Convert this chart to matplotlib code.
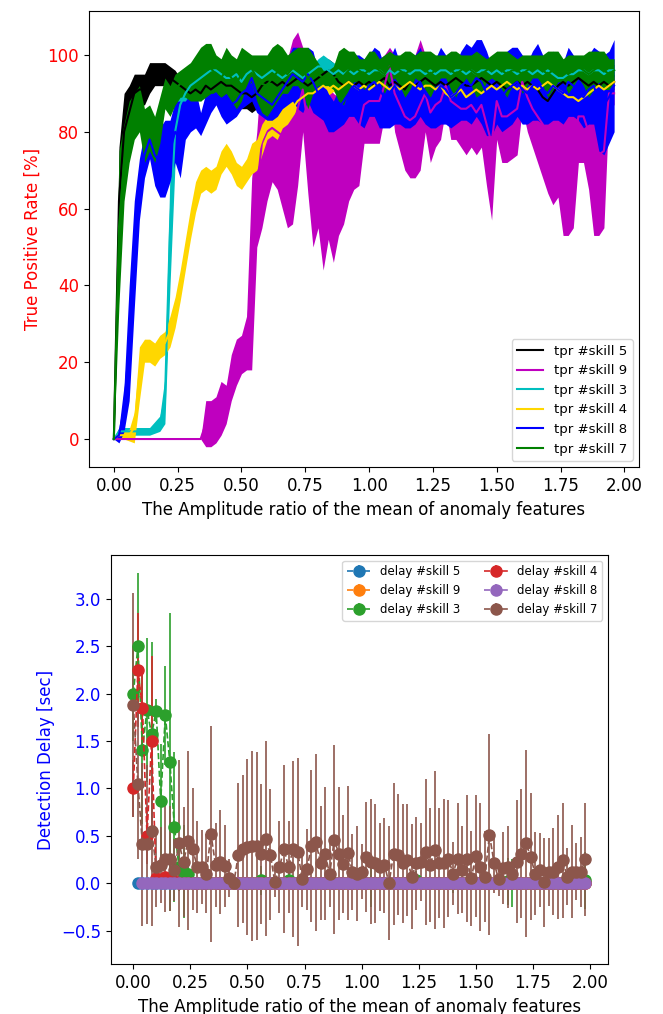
import numpy as np
import matplotlib
matplotlib.use("Agg")
import matplotlib.pyplot as plt

plt.rcParams['font.family'] = ['DejaVu Sans']
plt.rcParams['font.size'] = 12

# ---------------- top chart data (TPR mean / std) ----------------
x_top = np.round(np.arange(99) * 0.02, 2)
skills = ["5", "9", "3", "4", "8", "7"]
tpr_colors = ["k", "m", "c", "gold", "b", "g"]

tpr5_mean = [0, 62, 80, 85, 90, 91, 91, 94, 95, 95,
             95, 94, 93, 92, 91, 90, 91, 90, 92, 91,
             92, 93, 92, 92, 91, 90, 90, 89, 90, 92,
             93, 93, 92, 93, 92, 93, 94, 93, 92, 93,
             94, 95, 96, 95, 93, 92, 93, 92, 93, 92,
             93, 92, 93, 94, 92, 93, 92, 91, 93, 92,
             93, 94, 93, 92, 93, 92, 93, 94, 93, 92,
             92, 93, 94, 93, 92, 93, 92, 91, 92, 93,
             92, 93, 92, 91, 89, 88, 90, 92, 93, 92,
             93, 94, 93, 92, 93, 92, 93, 92, 93]
tpr5_std = [0, 14, 10, 7, 5, 4, 4, 4, 3, 3,
            3, 3, 3, 2, 2, 2, 2, 2, 2, 2,
            2, 2, 2, 2, 3, 4, 4, 4, 4, 3,
            2, 2, 2, 2, 2, 2, 2, 2, 2, 2,
            2, 3, 3, 3, 2, 2, 2, 2, 2, 2,
            2, 2, 2, 2, 2, 2, 2, 2, 2, 2,
            2, 2, 2, 2, 2, 2, 2, 2, 2, 2,
            2, 2, 2, 2, 2, 2, 2, 2, 2, 2,
            2, 2, 2, 3, 4, 4, 4, 3, 2, 2,
            2, 2, 2, 2, 2, 2, 2, 2, 2]

tpr9_mean = [0, 0, 0, 0, 0, 0, 0, 0, 0, 0,
             0, 0, 0, 0, 0, 0, 0, 0,
             4, 4, 5, 8, 9, 16, 20, 22,
             25, 43, 65, 77, 80, 81, 80, 79, 77, 80,
             86, 91, 82, 73, 74, 68, 72, 68, 71, 74,
             78, 80, 81, 87, 88, 88, 88, 92, 97, 90,
             87, 84, 83, 84, 87, 90, 85, 87, 88, 92,
             88, 87, 86, 86, 87, 85, 87, 82, 77, 88,
             84, 84, 85, 86, 93, 89, 86, 84, 82, 79,
             77, 78, 73, 73, 75, 84, 84, 80, 74, 74,
             75, 90, 90]
tpr9_std = [0, 0, 0, 0, 0, 0, 0, 0, 0, 0,
            0, 0, 0, 0, 0, 0, 0, 0,
            6, 6, 6, 7, 5, 6, 6, 5,
            7, 25, 15, 22, 18, 14, 15, 19, 22, 24,
            20, 11, 18, 23, 19, 24, 20, 22, 18, 18,
            16, 15, 15, 10, 11, 11, 11, 8, 5, 10,
            12, 14, 15, 16, 17, 10, 13, 11, 10, 6,
            10, 9, 10, 12, 11, 11, 11, 16, 20, 10,
            12, 12, 12, 12, 7, 9, 10, 12, 14, 15,
            16, 15, 20, 20, 20, 12, 12, 15, 21, 21,
            20, 3, 3]

tpr3_mean = [0, 2, 2, 2, 2, 2, 2, 2, 3, 4,
             10, 55, 80, 87, 90, 92, 93, 94, 95, 96,
             96, 95, 94, 94, 95, 93, 95, 96, 95, 94,
             95, 96, 95, 94, 95, 96, 95, 94, 95, 96,
             97, 97, 96, 95, 96, 95, 96, 95, 96, 96,
             95, 96, 96, 95, 96, 95, 96, 96, 95, 96,
             96, 95, 96, 95, 96, 96, 95, 96, 96, 95,
             96, 95, 96, 96, 95, 96, 95, 96, 96, 95,
             96, 96, 95, 96, 95, 96, 95, 94, 94, 95,
             95, 96, 96, 95, 96, 96, 95, 96, 96]
tpr3_std = [0, 1, 1, 1, 1, 1, 1, 1, 1.5, 2,
            6, 15, 8, 5, 3, 2, 2, 2, 2, 2,
            1.5, 1.5, 1.5, 1.5, 1.5, 1.5, 1.5, 1.5, 1.5, 1.5,
            1.5, 1.5, 1.5, 1.5, 1.5, 1.5, 1.5, 1.5, 1.5, 1.5,
            2, 3, 3, 3, 1.5, 1.5, 1.5, 1.5, 1.5, 1.5,
            1.5, 1.5, 1.5, 1.5, 1.5, 1.5, 1.5, 1.5, 1.5, 1.5,
            1.5, 1.5, 1.5, 1.5, 1.5, 1.5, 1.5, 1.5, 1.5, 1.5,
            1.5, 1.5, 1.5, 1.5, 1.5, 1.5, 1.5, 1.5, 1.5, 1.5,
            1.5, 1.5, 1.5, 1.5, 1.5, 1.5, 1.5, 2, 2, 2,
            1.5, 1.5, 1.5, 1.5, 1.5, 1.5, 1.5, 1.5, 1.5]

tpr4_mean = [0, 1, 1, 1, 3, 17, 23, 23, 22, 24,
             25, 28, 33, 40, 48, 56, 63, 67, 68, 67,
             68, 72, 74, 72, 69, 68, 70, 73, 74, 78,
             81, 82, 81, 84, 85, 86, 88, 89, 90, 90,
             91, 92, 91, 92, 91, 92, 93, 92, 91, 92,
             91, 92, 93, 92, 91, 92, 91, 92, 93, 92,
             91, 92, 92, 91, 92, 90, 89, 90, 91, 89,
             90, 91, 90, 91, 92, 91, 92, 93, 92, 91,
             92, 91, 92, 91, 92, 93, 92, 91, 90, 89,
             89, 88, 89, 90, 91, 92, 91, 92, 93]
tpr4_std = [0, 1, 1, 1.5, 4, 7, 3, 3, 3, 3,
            3, 4, 4, 4, 4, 4, 4, 3, 3, 3,
            3, 3, 3, 3, 3, 3, 3, 4, 4, 4,
            3, 3, 3, 3, 3, 2, 2, 2, 2, 2,
            1.5, 1.5, 1.5, 1.5, 1.5, 1.5, 1.5, 1.5, 1.5, 1.5,
            1.5, 1.5, 1.5, 1.5, 1.5, 1.5, 1.5, 1.5, 1.5, 1.5,
            1.5, 1.5, 1.5, 1.5, 1.5, 3, 3, 3, 3, 3,
            3, 3, 3, 3, 1.5, 1.5, 1.5, 1.5, 1.5, 1.5,
            1.5, 1.5, 1.5, 1.5, 1.5, 1.5, 1.5, 1.5, 2.5, 2.5,
            2.5, 2.5, 2.5, 2.5, 1.5, 1.5, 1.5, 1.5, 1.5]

tpr8_mean = [0, 1, 8, 25, 48, 65, 74, 78, 74, 72,
             73, 75, 80, 78, 83, 85, 86, 82, 86, 89,
             90, 88, 86, 87, 88, 90, 91, 94, 90, 89,
             88, 87, 89, 91, 93, 95, 94, 93, 95, 93,
             90, 88, 85, 84, 86, 88, 90, 92, 91, 90,
             92, 93, 91, 89, 90, 92, 90, 88, 89, 91,
             93, 90, 88, 90, 92, 91, 89, 90, 92, 93,
             92, 94, 93, 90, 88, 90, 89, 91, 92, 93,
             91, 90, 92, 93, 91, 90, 92, 91, 90, 93,
             92, 90, 89, 91, 92, 88, 87, 89, 92]
tpr8_std = [0, 2, 6, 15, 14, 8, 6, 5, 8, 9,
            10, 8, 8, 10, 5, 5, 5, 3, 4, 4,
            3, 4, 4, 4, 4, 4, 4, 6, 5, 5,
            5, 4, 5, 5, 6, 7, 8, 8, 7, 8,
            6, 5, 5, 4, 5, 6, 6, 8, 9, 9,
            8, 9, 10, 8, 9, 10, 8, 7, 8, 9,
            9, 8, 7, 9, 10, 9, 8, 8, 9, 10,
            10, 10, 11, 11, 9, 8, 9, 10, 10, 9,
            9, 8, 9, 10, 9, 8, 9, 8, 8, 9,
            8, 7, 8, 9, 10, 13, 13, 12, 12]

tpr7_mean = [0, 55, 72, 80, 84, 86, 79, 81, 78, 83,
             90, 88, 91, 92.5, 93, 93, 94, 95, 96, 96.5,
             95, 94, 96, 94, 92.5, 95, 96.5, 96.5, 94, 92.5,
             92, 94, 95.5, 96, 95, 96.5, 97, 96, 94, 95,
             95, 94, 94, 94, 94.5, 94.5, 96, 97, 96, 95,
             96, 97, 96, 95, 97, 97, 96, 95, 96, 97,
             97, 96, 95, 96, 97, 97, 96, 95, 96, 97,
             96, 95, 95, 96, 97, 97, 96, 95, 96, 96,
             95, 96, 97, 97, 96, 95, 96, 97, 96, 95,
             96, 97, 96, 95, 96, 97, 96, 95, 96]
tpr7_std = [0, 20, 10, 8, 6, 6, 7, 6, 6, 6,
            4, 4, 4, 3.5, 4, 5, 6, 7, 7, 6.5,
            5, 5, 6, 6, 6.5, 7, 4.5, 3.5, 6, 7.5,
            8, 8, 7.5, 6, 5, 4.5, 5, 6, 8, 5,
            3, 2, 2, 3, 6.5, 7.5, 5, 4, 3, 4,
            5, 4, 3, 5, 4, 3, 4, 6, 5, 3,
            4, 5, 6, 4, 3, 3, 5, 6, 4, 3,
            4, 6, 5, 3, 3, 4, 5, 6, 4, 3,
            5, 4, 3, 3, 4, 6, 5, 4, 3, 5,
            4, 3, 4, 6, 5, 4, 5, 4, 3]

# ---------------- bottom chart data (delay mean / std) ----------------
x_bot = np.round(np.arange(100) * 0.02, 2)
nan = np.nan
delay_colors = ["C0", "C1", "C2", "C3", "C4", "C5"]

delay5_mean = [nan] + [0.0] * 99
delay5_std = [nan] + [0.0] * 99

delay9_mean = [nan] * 18 + [0.0] * 82
delay9_std = [nan] * 18 + [0.0] * 82

delay3_mean = [2.0, 2.5, 1.41, 1.83, 1.57, 1.82, 0.87, 1.77, 1.28, 0.59,
               0.17, 0.12, 0.10, 0, 0, 0, 0, 0, 0, 0,
               0, 0, 0, 0, 0, 0, 0, 0, 0.03, 0,
               0, 0, 0, 0, 0.03, 0, 0, 0, 0, 0,
               0, 0, 0, 0, 0, 0, 0, 0, 0, 0,
               0, 0, 0, 0, 0, 0, 0, 0, 0, 0,
               0, 0, 0.03, 0, 0, 0, 0, 0, 0, 0,
               0, 0, 0, 0, 0, 0, 0, 0, 0, 0,
               0, 0, 0.02, 0, 0, 0, 0, 0, 0, 0,
               0, 0, 0, 0, 0, 0, 0, 0, 0, 0.03]
delay3_std = [0.5, 0.77, 0.79, 0.76, 0.98, 0.12, 0.6, 0.52, 1.57, 0.79,
              0.25, 0.49, 0.1, 0, 0, 0, 0, 0, 0, 0,
              0, 0, 0, 0, 0, 0, 0, 0, 0.15, 0,
              0, 0, 0, 0, 0.1, 0, 0, 0, 0, 0,
              0, 0, 0, 0, 0, 0, 0, 0, 0, 0,
              0, 0, 0.25, 0, 0, 0, 0, 0, 0, 0,
              0, 0, 0.1, 0, 0, 0, 0, 0, 0, 0,
              0.1, 0, 0, 0, 0, 0, 0, 0, 0, 0,
              0, 0, 0.25, 0.25, 0, 0, 0, 0, 0, 0,
              0, 0, 0, 0, 0, 0, 0, 0, 0, 0.3]

delay4_mean = [1.0, 2.25, 1.85, 0.5, 1.5, 0.05, 0.03, 0.06, 0.03, 0.02] + [0.0] * 90
delay4_std = [0.3, 0.6, 0.4, 0.3, 0.9, 0.1, 0.05, 0.05, 0.05, 0.05] + [0.0] * 90

delay8_mean = [nan, nan] + [0.0] * 98
delay8_std = [nan, nan] + [0.0] * 98

delay7_mean = [1.88, 1.05, 0.41, 0.41, 0.55, 0.17, 0.19, 0.26, 0.26, 0.14,
               0.42, 0.225, 0.45, 0.36, 0.17, 0.17, 0.10, 0.52, 0.19, 0.225,
               0.18, 0.05, 0.0, 0.30, 0.36, 0.38, 0.39, 0.39, 0.31, 0.47,
               0.30, 0.01, 0.17, 0.36, 0.17, 0.36, 0.33, 0.04, 0.145, 0.39,
               0.43, 0.21, 0.31, 0.095, 0.46, 0.31, 0.20, 0.32, 0.12, 0.10,
               0.12, 0.28, 0.225, 0.21, 0.17, 0.19, 0.0, 0.31, 0.30, 0.21,
               0.24, 0.07, 0.21, 0.225, 0.33, 0.19, 0.35, 0.21, 0.21, 0.26,
               0.10, 0.26, 0.14, 0.26, 0.05, 0.285, 0.17, 0.07, 0.51, 0.215,
               0.04, 0.155, 0.17, 0.10, 0.225, 0.31, 0.42, 0.28, 0.10, 0.14,
               0.01, 0.12, 0.12, 0.17, 0.24, 0.07, 0.12, 0.12, 0.12, 0.25]
delay7_std = [1.18, 0.8, 0.86, 0.84, 1.0, 0.42, 0.40, 0.56, 0.55, 0.33,
              0.88, 0.58, 0.94, 0.64, 0.49, 0.39, 0.42, 1.14, 0.44, 0.55,
              0.43, 0.2, 0.05, 0.76, 0.78, 0.93, 1.0, 0.99, 0.74, 1.03,
              0.69, 0.16, 0.49, 0.89, 0.49, 0.93, 0.99, 0.29, 0.43, 0.80,
              0.93, 0.60, 0.70, 0.35, 1.0, 0.70, 0.52, 0.71, 0.4, 0.5,
              0.29, 0.58, 0.66, 0.63, 0.46, 0.5, 0.6, 0.75, 0.64, 0.63,
              0.59, 0.55, 0.49, 0.41, 0.77, 0.60, 0.83, 0.58, 0.68, 0.62,
              0.33, 0.59, 0.46, 0.67, 0.5, 0.64, 0.68, 0.48, 1.06, 0.32,
              0.18, 0.38, 0.43, 0.13, 0.65, 0.68, 0.99, 0.67, 0.44, 0.39,
              0.47, 0.36, 0.46, 0.55, 0.61, 0.3, 0.49, 0.30, 0.37, 0.60]

tpr_means = [tpr5_mean, tpr9_mean, tpr3_mean, tpr4_mean, tpr8_mean, tpr7_mean]
tpr_stds = [tpr5_std, tpr9_std, tpr3_std, tpr4_std, tpr8_std, tpr7_std]
delay_means = [delay5_mean, delay9_mean, delay3_mean, delay4_mean, delay8_mean, delay7_mean]
delay_stds = [delay5_std, delay9_std, delay3_std, delay4_std, delay8_std, delay7_std]

xlabel = "The Amplitude ratio of the mean of anomaly features"

fig = plt.figure(figsize=(6.63, 10.14), dpi=100)

# ---------------- top axes ----------------
ax1 = fig.add_axes([0.134, 0.539, 0.830, 0.450])
for s, c, m, sd in zip(skills, tpr_colors, tpr_means, tpr_stds):
    m = np.asarray(m, float)
    sd = np.asarray(sd, float)
    ax1.plot(x_top, m, color=c, lw=1.5, label="tpr #skill " + s)
    ax1.fill_between(x_top, m - sd, m + sd, color=c, lw=0)
ax1.set_xlabel(xlabel, fontsize=12)
ax1.set_ylabel("True Positive Rate [%]", color="r", fontsize=12)
ax1.tick_params(axis="y", labelcolor="r", labelsize=12)
ax1.tick_params(axis="x", labelsize=12)
ax1.set_xticks([0, 0.25, 0.5, 0.75, 1.0, 1.25, 1.5, 1.75, 2.0])
ax1.legend(loc="lower right", fontsize=9.5)

# ---------------- bottom axes ----------------
ax2 = fig.add_axes([0.167, 0.049, 0.750, 0.404])
for s, c, m, sd in zip(skills, delay_colors, delay_means, delay_stds):
    ax2.errorbar(x_bot, m, yerr=sd, fmt="o--", color=c, markersize=8,
                 elinewidth=1.2, lw=1.2, label="delay #skill " + s)
ax2.set_xlabel(xlabel, fontsize=12)
ax2.set_ylabel("Detection Delay [sec]", color="b", fontsize=12)
ax2.tick_params(axis="y", labelcolor="b", labelsize=12)
ax2.tick_params(axis="x", labelsize=12)
ax2.set_xticks([0, 0.25, 0.5, 0.75, 1.0, 1.25, 1.5, 1.75, 2.0])
ax2.legend(loc="upper right", ncol=2, fontsize=8.5)

fig.savefig("out.png", dpi=100)
